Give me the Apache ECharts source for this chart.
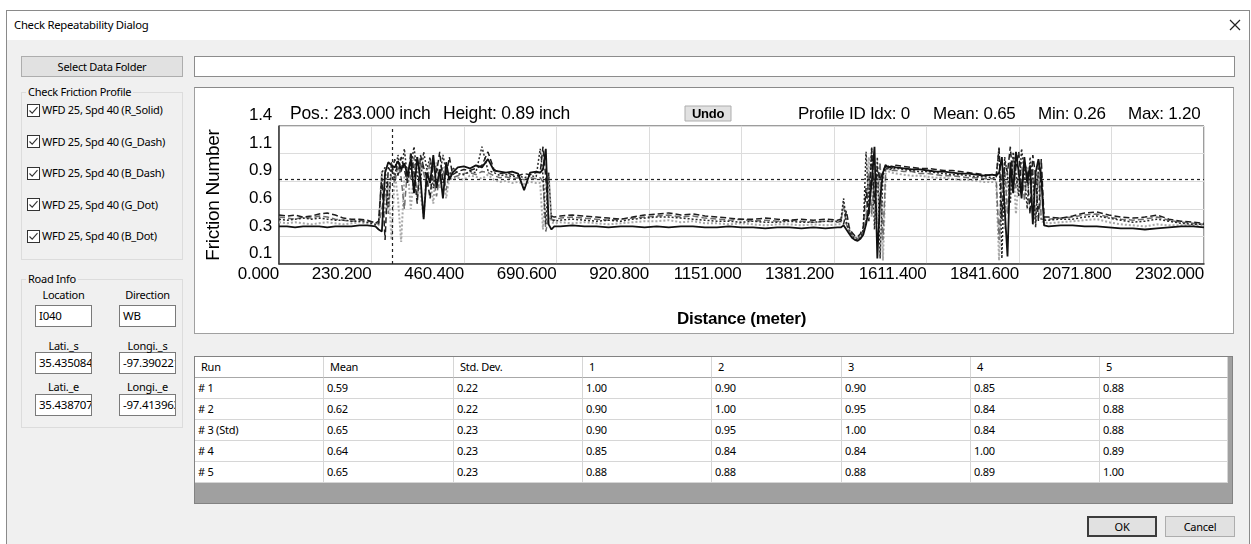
<!DOCTYPE html>
<html><head><meta charset="utf-8">
<script src="https://cdn.jsdelivr.net/npm/echarts@6/dist/echarts.min.js"></script>
<style>
html,body{margin:0;padding:0;width:1251px;height:544px;overflow:hidden;background:#fff;font-family:"Noto Sans",sans-serif;font-size:11px;letter-spacing:-0.25px;color:#000;}
.a{position:absolute;box-sizing:border-box;}
.t{position:absolute;white-space:nowrap;line-height:16px;z-index:3;}
.btn{background:#e1e1e1;border:1px solid #adadad;display:flex;align-items:center;justify-content:center;}
.tb{background:#fff;border:1px solid #7a7a7a;padding-left:3px;line-height:20px;overflow:hidden;white-space:nowrap;font-size:11.5px;}
.grp{border:1px solid #dcdcdc;}
.lg{background:#f0f0f0;padding:0 2px;}
.cell{position:absolute;box-sizing:border-box;background:#fff;border-right:1px solid #d6d6d6;border-bottom:1px solid #d6d6d6;white-space:nowrap;overflow:hidden;line-height:20px;}
</style></head>
<body>
<div class="a" style="left:6px;top:10px;width:1244px;height:540px;border:1px solid #8a8a8a;background:#f0f0f0;"></div>
<div class="a" style="left:7px;top:11px;width:1242px;height:29px;background:#fff;"></div>
<div class="t" style="left:14px;top:17px;font-size:11.3px;">Check Repeatability Dialog</div>
<svg class="a" style="left:1229px;top:19px;" width="12" height="12"><path d="M1 1L11 11M11 1L1 11" stroke="#222" stroke-width="1.2"/></svg>

<div class="a btn" style="left:21px;top:56px;width:162px;height:21px;">Select Data Folder</div>
<div class="a tb" style="left:194px;top:56px;width:1041px;height:21px;border-color:#8c8c8c;"></div>

<div class="a grp" style="left:21px;top:92px;width:162px;height:168px;"></div>
<div class="t lg" style="left:26px;top:84px;">Check Friction Profile</div>
<div id="checks"></div>

<div class="a grp" style="left:21px;top:279px;width:162px;height:149px;"></div>
<div class="t lg" style="left:26px;top:271px;">Road Info</div>
<div id="road"></div>

<div class="a" style="left:194px;top:87px;width:1040px;height:247px;border:1px solid #a0a0a0;border-top-color:#8a8a8a;background:#fff;"></div>
<div id="chart" class="a" style="left:195px;top:88px;width:1038px;height:245px;"></div>

<div class="a" style="left:194px;top:356px;width:1039px;height:148px;background:#a0a0a0;border:1px solid #828282;"></div>
<div id="grid"></div>

<div class="a btn" style="left:1087px;top:516px;width:70px;height:21px;border:2px solid #3c3c3c;">OK</div>
<div class="a btn" style="left:1165px;top:516px;width:70px;height:21px;">Cancel</div>

<script>
// ---------- chart data ----------
const distance = [
  0,20,40,60,80,100,120,140,160,180,200,220,240,
  248,256,264,272,280,288,296,304,312,320,328,336,344,352,360,368,376,384,392,400,408,416,424,432,
  445,460,475,490,505,520,535,550,565,580,595,610,625,640,
  650,657,664,671,678,685,
  700,730,760,790,820,850,880,910,940,970,1000,1030,1060,1090,1120,1150,1180,1210,1240,1270,1300,1330,1360,1390,
  1398,1405,1412,1419,1426,1433,1440,1447,1454,1461,1468,1475,1482,1489,1496,1503,1510,1517,1524,
  1535,1555,1575,1595,1615,1635,1655,1675,1695,1715,1735,1755,1775,
  1785,1792,1799,1806,1813,1820,1827,1834,1841,1848,1855,1862,1869,1876,1883,1890,1897,1904,
  1915,1945,1975,2005,2035,2065,2095,2125,2155,2185,2215,2245,2275,2302
];
const profileRSolid = [
  0.43,0.43,0.42,0.43,0.43,0.43,0.42,0.43,0.43,0.43,0.44,0.44,0.43,
  0.40,0.38,0.95,1.05,1.02,1.00,1.06,0.98,1.04,0.92,1.08,0.75,1.10,0.90,0.50,0.95,0.85,1.12,0.80,0.98,0.70,1.05,0.88,0.95,
  1.00,1.01,0.99,1.02,1.00,1.08,0.97,0.96,0.95,0.96,0.94,0.78,0.95,0.96,
  0.95,0.98,1.18,0.45,0.40,0.43,
  0.43,0.44,0.43,0.43,0.42,0.43,0.43,0.42,0.43,0.42,0.43,0.43,0.42,0.42,0.43,0.42,0.42,0.41,0.42,0.42,0.41,0.42,0.41,0.42,
  0.42,0.44,0.40,0.36,0.32,0.30,0.29,0.31,0.35,0.45,0.60,0.85,1.20,0.12,0.70,0.95,1.02,1.00,1.01,
  1.00,0.99,0.98,0.98,0.97,0.96,0.96,0.95,0.94,0.94,0.93,0.92,0.93,
  0.92,0.95,1.10,0.60,0.14,1.05,0.75,1.15,0.95,0.70,1.10,0.85,1.02,0.45,0.95,1.08,0.90,0.44,
  0.43,0.44,0.44,0.43,0.43,0.42,0.41,0.41,0.40,0.41,0.42,0.43,0.43,0.42
];
const profileGDash = [
  0.52,0.51,0.50,0.52,0.51,0.53,0.52,0.50,0.49,0.48,0.49,0.48,0.47,
  0.45,0.60,0.80,0.55,0.98,0.85,1.02,0.90,0.60,1.00,0.88,1.10,0.70,1.05,0.95,0.80,1.08,0.90,0.72,0.92,1.00,0.78,0.95,0.90,
  0.92,0.94,0.95,0.93,0.96,0.95,0.92,0.90,0.91,0.89,0.90,0.88,0.90,0.89,
  0.90,0.86,0.38,0.52,0.50,0.49,
  0.51,0.52,0.51,0.50,0.49,0.50,0.51,0.52,0.53,0.54,0.52,0.53,0.51,0.50,0.49,0.50,0.48,0.49,0.48,0.49,0.48,0.47,0.48,0.47,
  0.48,0.62,0.45,0.38,0.35,0.33,0.31,0.34,0.38,0.50,0.95,0.55,0.90,0.75,1.05,0.30,0.98,0.99,0.97,
  0.97,0.96,0.96,0.94,0.94,0.93,0.92,0.92,0.91,0.90,0.90,0.89,0.89,
  0.88,0.30,0.95,1.00,0.55,0.92,1.10,0.80,0.98,1.05,0.68,0.95,0.85,1.00,0.46,1.05,0.50,0.50,
  0.50,0.51,0.52,0.54,0.55,0.52,0.50,0.49,0.50,0.52,0.49,0.47,0.46,0.45
];
const profileBDash = [
  0.54,0.53,0.54,0.52,0.53,0.55,0.56,0.54,0.51,0.50,0.50,0.49,0.46,
  0.48,0.90,0.30,1.00,0.95,1.08,0.92,1.10,0.98,0.85,1.15,0.95,0.65,1.12,1.00,0.90,0.70,1.05,0.95,1.15,0.85,0.92,1.10,0.93,
  0.96,0.98,0.97,0.99,1.02,1.15,0.98,0.94,0.95,0.93,0.92,0.94,0.93,0.95,
  0.95,1.20,0.90,0.50,0.53,0.52,
  0.53,0.54,0.53,0.52,0.51,0.50,0.52,0.54,0.55,0.56,0.54,0.55,0.53,0.52,0.51,0.50,0.50,0.51,0.50,0.49,0.50,0.49,0.50,0.49,
  0.50,0.45,0.58,0.42,0.37,0.34,0.33,0.36,0.42,0.80,0.48,1.18,0.65,1.00,0.88,0.96,1.03,1.01,0.99,
  1.02,1.01,1.00,0.99,0.99,0.98,0.97,0.97,0.96,0.95,0.94,0.93,0.92,
  0.93,1.18,0.50,1.05,0.95,1.20,0.85,1.00,1.15,0.80,1.05,0.95,0.55,1.12,0.92,0.48,1.08,0.52,
  0.52,0.51,0.53,0.56,0.57,0.54,0.52,0.51,0.52,0.54,0.50,0.48,0.47,0.46
];
const profileGDot = [
  0.47,0.46,0.47,0.46,0.45,0.46,0.47,0.46,0.45,0.46,0.47,0.46,0.44,
  0.44,0.97,0.55,0.85,0.30,0.95,0.70,0.28,0.90,1.00,0.60,0.95,1.10,0.75,0.52,1.00,0.88,0.65,1.05,0.80,0.95,0.70,0.90,0.88,
  0.90,0.88,0.92,0.91,0.89,0.93,0.88,0.86,0.87,0.85,0.86,0.84,0.86,0.85,
  0.85,0.40,0.88,0.95,0.47,0.46,
  0.47,0.46,0.47,0.46,0.45,0.46,0.47,0.48,0.48,0.49,0.47,0.48,0.46,0.46,0.45,0.46,0.45,0.44,0.45,0.45,0.44,0.45,0.44,0.45,
  0.45,0.66,0.50,0.40,0.36,0.32,0.30,0.33,0.37,0.48,1.10,0.52,0.85,0.45,0.95,0.10,0.94,0.96,0.95,
  0.94,0.93,0.92,0.92,0.91,0.90,0.90,0.89,0.88,0.88,0.87,0.86,0.86,
  0.86,0.10,0.90,0.40,0.95,0.75,1.05,0.55,0.90,0.98,0.80,1.00,0.90,0.62,0.95,0.85,0.48,0.47,
  0.46,0.47,0.48,0.49,0.50,0.47,0.45,0.44,0.43,0.45,0.44,0.44,0.44,0.44
];
const profileBDot = [
  0.50,0.49,0.50,0.51,0.50,0.51,0.50,0.49,0.49,0.48,0.48,0.47,0.45,
  0.46,0.95,1.00,0.62,1.05,0.90,1.12,0.95,1.18,0.88,1.00,1.20,0.92,0.85,1.15,0.98,1.10,0.80,1.00,0.92,1.12,0.96,0.90,1.00,
  0.94,0.93,0.96,0.95,1.20,0.97,0.95,0.92,0.93,0.91,0.92,0.90,0.92,0.91,
  1.18,0.92,0.45,0.95,0.50,0.48,
  0.49,0.50,0.49,0.48,0.49,0.48,0.50,0.51,0.52,0.52,0.51,0.50,0.49,0.48,0.48,0.47,0.48,0.47,0.47,0.48,0.47,0.47,0.48,0.48,
  0.48,0.70,0.46,0.39,0.34,0.31,0.30,0.32,0.40,1.15,0.62,1.20,0.40,1.10,0.12,0.92,1.00,0.98,0.98,
  0.99,0.98,0.97,0.96,0.96,0.95,0.94,0.93,0.93,0.92,0.91,0.91,0.90,
  0.90,1.20,0.12,1.10,0.92,0.65,1.15,0.95,0.72,1.18,0.95,0.60,1.10,0.90,0.42,1.00,0.95,0.49,
  0.49,0.50,0.50,0.52,0.53,0.51,0.49,0.47,0.48,0.50,0.48,0.46,0.45,0.45
];
const cursorPos = 283.0;
const cursorHeight = 0.89;
const profileIdx = 0;
const statMean = 0.65, statMin = 0.26, statMax = 1.20;
const xMin = 0, xMax = 2302, xStep = 230.2;
const yMin = 0.0667, yMax = 1.4, yStep = 0.26666;

// ---------- UI data ----------
const profileNames = ['WFD 25, Spd 40 (R_Solid)','WFD 25, Spd 40 (G_Dash)','WFD 25, Spd 40 (B_Dash)','WFD 25, Spd 40 (G_Dot)','WFD 25, Spd 40 (B_Dot)'];
const roadLabels = ['Location','Direction','Lati._s','Longi._s','Lati._e','Longi._e'];
const roadValues = ['I040','WB','35.435084','-97.390221','35.438707','-97.413963'];
const tableHeader = ['Run','Mean','Std. Dev.','1','2','3','4','5'];
const runNames = ['# 1','# 2','# 3 (Std)','# 4','# 5'];
const runMeans = ['0.59','0.62','0.65','0.64','0.65'];
const runStd = ['0.22','0.22','0.23','0.23','0.23'];
const corr = [
  ['1.00','0.90','0.90','0.85','0.88'],
  ['0.90','1.00','0.95','0.84','0.88'],
  ['0.90','0.95','1.00','0.84','0.88'],
  ['0.85','0.84','0.84','1.00','0.89'],
  ['0.88','0.88','0.88','0.89','1.00']
];

// ---------- build UI ----------
(function(){
  let h='';
  profileNames.forEach((n,i)=>{
    const cy = 110 + i*31.5;
    h += `<svg class="a" style="left:27px;top:${cy-6.5}px" width="13" height="13"><rect x="0.5" y="0.5" width="12" height="12" fill="#fff" stroke="#333"/><path d="M2.5 6.5L5.2 9.2L10.5 3.2" fill="none" stroke="#333" stroke-width="1.1"/></svg>`;
    h += `<div class="t" style="left:42px;top:${cy-8}px">${n}</div>`;
  });
  document.getElementById('checks').innerHTML=h;
  h='';
  const lx=[63.5,147.5], ly=[295.7,346.7,387.7], by=[305,352,394], bx=[35,119];
  for(let r=0;r<3;r++)for(let c=0;c<2;c++){
    const k=r*2+c;
    h += `<div class="a tb" style="left:${bx[c]}px;top:${by[r]}px;width:57px;height:22px;">${roadValues[k]}</div>`;
    h += `<div class="t" style="left:${lx[c]-40}px;width:80px;text-align:center;top:${ly[r]-9}px">${roadLabels[k]}</div>`;
  }
  document.getElementById('road').innerHTML=h;
  h='';
  const colX=[194,324,454,583,712,842,971,1100,1228];
  const rowY=[356,378,399,420,441,462,483];
  tableHeader.forEach((t,c)=>{
    h += `<div class="cell" style="left:${colX[c]+(c==0?1:0)}px;top:${rowY[0]+1}px;width:${colX[c+1]-colX[c]-(c==0?1:0)}px;height:${rowY[1]-rowY[0]-1}px;padding-left:6px;border-bottom-color:#a8a8a8;">${t}</div>`;
  });
  for(let r=0;r<5;r++){
    const vals=[runNames[r],runMeans[r],runStd[r]].concat(corr[r]);
    vals.forEach((t,c)=>{
      h += `<div class="cell" style="left:${colX[c]+(c==0?1:0)}px;top:${rowY[r+1]}px;width:${colX[c+1]-colX[c]-(c==0?1:0)}px;height:${rowY[r+2]-rowY[r+1]}px;padding-left:3px;">${t}</div>`;
    });
  }
  document.getElementById('grid').innerHTML=h;
})();

// ---------- chart ----------
const chart = echarts.init(document.getElementById('chart'));
const pts = v => distance.map((d,i)=>[d,v[i]]);
const FONT = 'Liberation Sans';
const styles = [
  {name:profileNames[3], data:profileGDot, color:'#a9a9a9', type:[2,2], width:2},
  {name:profileNames[1], data:profileGDash, color:'#6e6e6e', type:[6,3], width:1.5},
  {name:profileNames[4], data:profileBDot, color:'#2a2a2a', type:[2,2], width:1.5},
  {name:profileNames[2], data:profileBDash, color:'#1e1e1e', type:[6,3], width:1.5},
  {name:profileNames[0], data:profileRSolid, color:'#111111', type:'solid', width:1.8}
];
const series = styles.map((s,i)=>({
  name:s.name, type:'line', showSymbol:false, symbol:'none', data:pts(s.data),
  lineStyle:{color:s.color, width:s.width, type:s.type}, z:2+i,
  markLine: i===styles.length-1 ? {silent:true, symbol:'none', label:{show:false},
    lineStyle:{type:[3,3], color:'#222', width:1.2},
    data:[{xAxis:cursorPos},{yAxis:cursorHeight}]} : undefined
}));
const txt = (x,s,extra)=>Object.assign({type:'text', x:x, y:26.5, style:{text:s, fontSize:17, fontFamily:FONT, fill:'#000', verticalAlign:'middle'}}, extra||{});
chart.setOption({
  animation:false,
  grid:{left:84, top:38, width:925, height:140, show:true, borderColor:'#3a3a3a', borderWidth:1},
  xAxis:{type:'value', min:xMin, max:xMax, interval:xStep,
    axisLine:{show:true, lineStyle:{color:'#3a3a3a', width:1.5}}, axisTick:{show:false},
    splitLine:{show:true, lineStyle:{color:'#dcdcdc', width:1}},
    axisLabel:{formatter:v=>v.toFixed(3), align:'right', margin:2, fontSize:17, fontFamily:FONT, color:'#000', showMinLabel:true, showMaxLabel:true},
    name:'Distance (meter)', nameLocation:'middle', nameGap:47,
    nameTextStyle:{fontSize:17, fontWeight:'bold', fontFamily:FONT, color:'#000'}},
  yAxis:{type:'value', min:yMin, max:yMax, interval:yStep,
    axisLine:{show:true, lineStyle:{color:'#3a3a3a', width:1.5}}, axisTick:{show:false},
    splitLine:{show:true, lineStyle:{color:'#dcdcdc', width:1}},
    axisLabel:{formatter:v=>v.toFixed(1), verticalAlign:'bottom', margin:7, fontSize:17, fontFamily:FONT, color:'#000', padding:[0,0,2,0], showMinLabel:true, showMaxLabel:true},
    name:'Friction Number', nameLocation:'middle', nameGap:56,
    nameTextStyle:{fontSize:19, fontFamily:FONT, color:'#000'}},
  graphic:[
    txt(95, 'Pos.: '+cursorPos.toFixed(3)+' inch', {style:{text:'Pos.: '+cursorPos.toFixed(3)+' inch', fontSize:17.5, fontFamily:FONT, fill:'#000', verticalAlign:'middle'}}),
    txt(248, 'Height: '+cursorHeight.toFixed(2)+' inch', {style:{text:'Height: '+cursorHeight.toFixed(2)+' inch', fontSize:17.5, fontFamily:FONT, fill:'#000', verticalAlign:'middle'}}),
    {type:'rect', shape:{x:490, y:18, width:46, height:15}, style:{fill:'#e1e1e1', stroke:'#adadad', lineWidth:1}},
    {type:'text', x:513, y:26, style:{text:'Undo', fontSize:13, fontWeight:'bold', fontFamily:FONT, fill:'#000', align:'center', verticalAlign:'middle'}},
    txt(603, 'Profile ID Idx: '+profileIdx),
    txt(738, 'Mean: '+statMean.toFixed(2)),
    txt(843, 'Min: '+statMin.toFixed(2)),
    txt(933, 'Max: '+statMax.toFixed(2))
  ],
  series:series
});
</script>
</body></html>
